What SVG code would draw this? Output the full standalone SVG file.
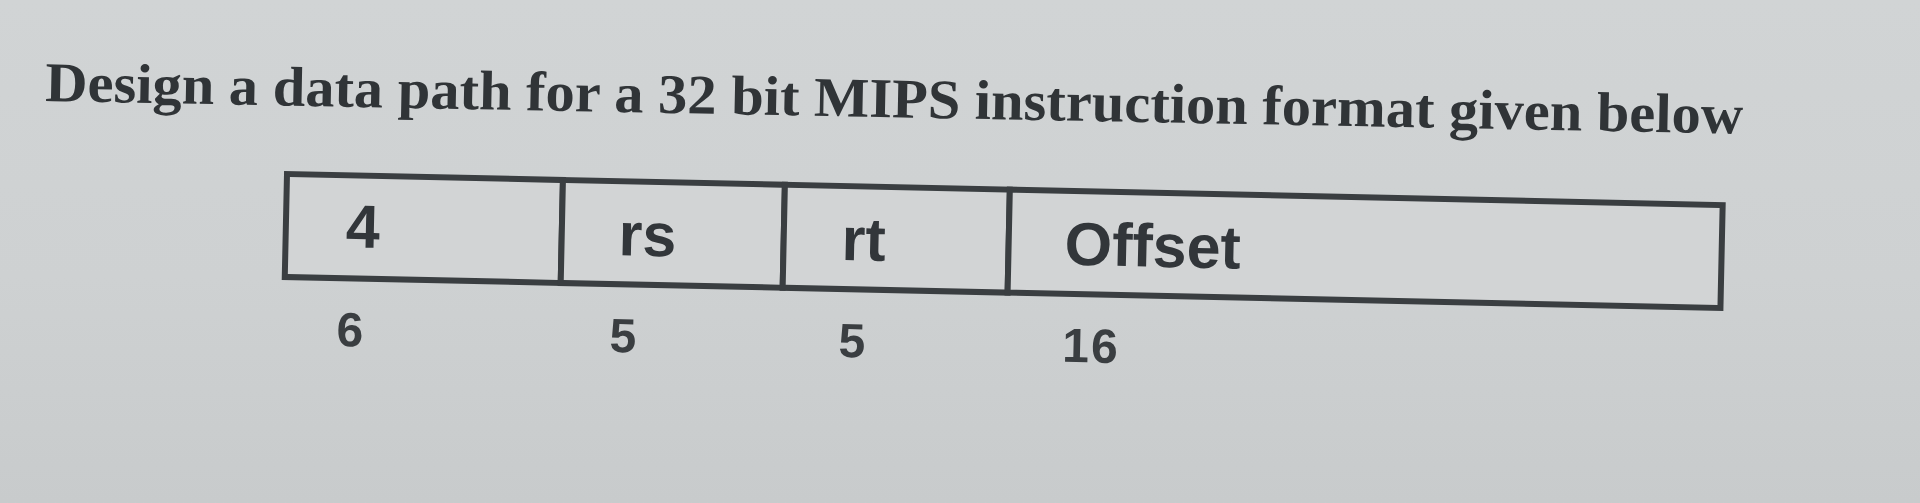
<svg xmlns="http://www.w3.org/2000/svg" width="1920" height="503" viewBox="0 0 1920 503">
  <defs>
    <linearGradient id="bg" x1="0" y1="0" x2="0" y2="1">
      <stop offset="0" stop-color="#d1d4d5"/>
      <stop offset="0.55" stop-color="#ced1d2"/>
      <stop offset="1" stop-color="#c8cbcc"/>
    </linearGradient>
    <style>
      .title { font-family: "Liberation Serif", "Times New Roman", serif; font-weight: bold; font-size: 56px; fill: #303437; }
      .cell { fill: #d2d4d5; stroke: #3a3e41; stroke-width: 6; stroke-linejoin: miter; }
      .hdr { font-family: "Liberation Sans", Arial, sans-serif; font-weight: bold; font-size: 61px; fill: #32363a; }
      .bits { font-family: "Liberation Sans", Arial, sans-serif; font-weight: bold; font-size: 48px; fill: #3a3e41; }
    </style>
  </defs>
  <rect x="0" y="0" width="1920" height="503" fill="url(#bg)"/>

  <g id="title" transform="rotate(1.1 45 101)">
    <text class="title" x="45" y="101" textLength="1698" lengthAdjust="spacingAndGlyphs">Design a data path for a 32 bit MIPS instruction format given below</text>
  </g>

  <g id="instruction-format" transform="rotate(1.24 287 174)">
    <g id="field-opcode">
      <rect class="cell" x="287" y="174" width="276" height="103"/>
      <text class="hdr" x="347" y="246">4</text>
      <text class="bits" x="340" y="345">6</text>
    </g>
    <g id="field-rs">
      <rect class="cell" x="563" y="174" width="222" height="103"/>
      <text class="hdr" x="620" y="248">rs</text>
      <text class="bits" x="613" y="345">5</text>
    </g>
    <g id="field-rt">
      <rect class="cell" x="785" y="174" width="225" height="103"/>
      <text class="hdr" x="843" y="248">rt</text>
      <text class="bits" x="842" y="345">5</text>
    </g>
    <g id="field-offset">
      <rect class="cell" x="1010" y="174" width="713" height="103"/>
      <text class="hdr" x="1066" y="248">Offset</text>
      <text class="bits" x="1066" y="345" letter-spacing="2">16</text>
    </g>
  </g>

  <g id="connectors"/>
</svg>
